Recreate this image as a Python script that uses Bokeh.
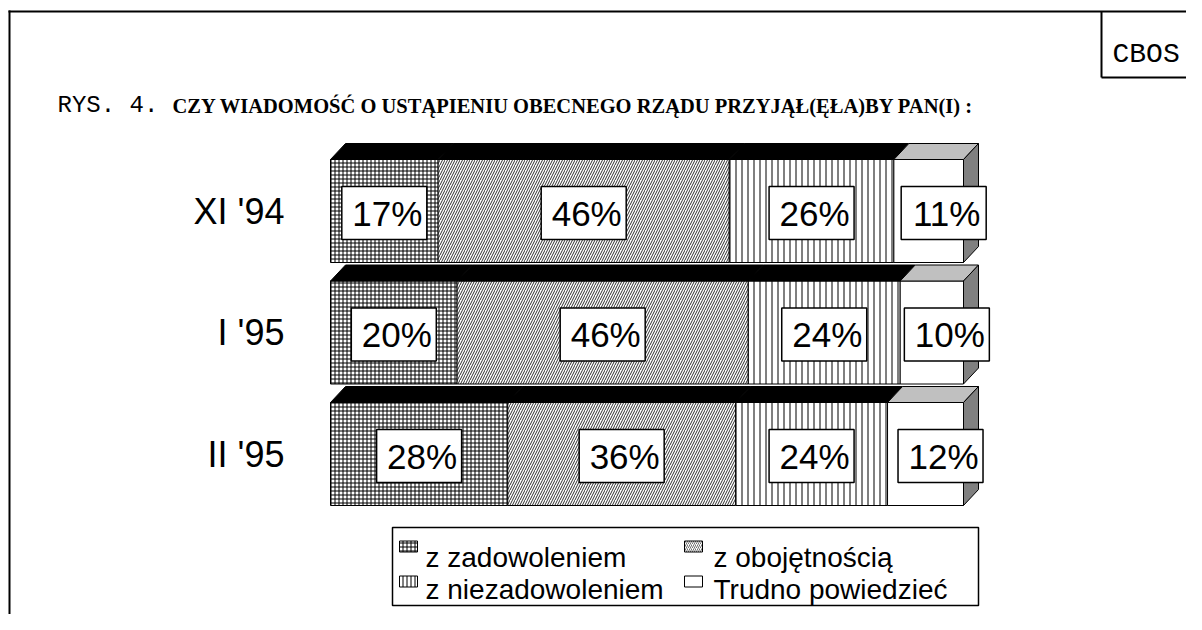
from bokeh.plotting import figure
from bokeh.models import Range1d
from bokeh.core.properties import value
from bokeh.embed import file_html
from bokeh.resources import INLINE

# ---------------- data ----------------
periods = ["XI '94", "I '95", "II '95"]
series = ["z zadowoleniem", "z obojętnością", "z niezadowoleniem", "Trudno powiedzieć"]
z_zadowoleniem = [17, 20, 28]
z_obojetnoscia = [46, 46, 36]
z_niezadowoleniem = [26, 24, 24]
trudno_powiedziec = [11, 10, 12]
title_prefix = "RYS. 4."
title_text = "CZY WIADOMOŚĆ O USTĄPIENIU OBECNEGO RZĄDU PRZYJĄŁ(ĘŁA)BY PAN(I) :"
source_text = "CBOS"

values = [z_zadowoleniem, z_obojetnoscia, z_niezadowoleniem, trudno_powiedziec]

# ---------------- layout ----------------
W, H = 1186, 614
OX, OY = 0, 0
X0, SX = 330.0, 6.33      # px of 0 %, px per 1 %
Y0, SY = 210.5, 121.5     # px of first bar centre, px per bar step


def px(x):
    return (x - X0) / SX


def py(y):
    return (y - Y0) / SY


p = figure(width=W, height=H, output_backend="svg", toolbar_location=None,
           x_range=Range1d(px(OX), px(OX + W)),
           y_range=Range1d(py(OY + H), py(OY)),
           x_axis_type=None, y_axis_type=None, min_border=0)
p.grid.visible = False
p.outline_line_color = None
p.background_fill_color = "white"
p.border_fill_color = "white"

SANS = value("Liberation Sans")
SERIF = value("Liberation Serif")
MONO = value("Liberation Mono")

# outer frame and source box
p.segment(x0=[px(9), px(8), px(1101), px(1101)],
          y0=[py(10), py(11), py(11), py(77)],
          x1=[px(9), px(1215), px(1101), px(1215)],
          y1=[py(640), py(11), py(77), py(77)],
          line_color="black", line_width=2)
p.text(x=[px(1112)], y=[py(54)], text=[source_text], text_font=MONO,
       text_font_size="28px", text_color="black", text_baseline="alphabetic")

# title
p.text(x=[px(57)], y=[py(105)], text=[title_prefix], text_font=MONO,
       text_font_size="24px", text_color="black", text_baseline="alphabetic")
p.text(x=[px(172)], y=[py(105)], text=[title_text], text_font=SERIF,
       text_font_style="bold", text_font_size="20.5px", text_color="black",
       text_baseline="alphabetic")

# ---------------- bars ----------------
BAR_H = 103 / SY
DX = 15 / SX
DY = 16 / SY
ks = list(range(len(periods)))

styles = [
    dict(hatch_pattern="+", hatch_scale=4, hatch_weight=1, hatch_color="black"),
    dict(hatch_pattern="/", hatch_scale=5, hatch_weight=1, hatch_color="#303030"),
    dict(hatch_pattern="|", hatch_scale=6, hatch_weight=1, hatch_color="black"),
    dict(),
]
legend_styles = [
    dict(hatch_pattern="+", hatch_scale=4, hatch_weight=1, hatch_color="black"),
    dict(hatch_pattern="/", hatch_scale=4, hatch_weight=1, hatch_color="#707070"),
    dict(hatch_pattern="|", hatch_scale=4, hatch_weight=1, hatch_color="black"),
    dict(),
]
top_colors = ["black", "black", "black", "#c0c0c0"]

cum = [0.0] * len(periods)
n = len(series)
for i, vals in enumerate(values):
    lefts = cum[:]
    rights = [l + v for l, v in zip(lefts, vals)]
    tops = [k - BAR_H / 2 for k in ks]
    bottoms = [k + BAR_H / 2 for k in ks]
    # front face
    p.quad(left=lefts, right=rights, top=tops, bottom=bottoms,
           fill_color="white", line_color="black", line_width=1, **styles[i])
    # top face
    p.patches(xs=[[l, r, r + DX, l + DX] for l, r in zip(lefts, rights)],
              ys=[[t, t, t - DY, t - DY] for t in tops],
              fill_color=top_colors[i], line_color="black", line_width=1)
    if i == n - 1:
        # right side face
        p.patches(xs=[[r, r + DX, r + DX, r] for r in rights],
                  ys=[[t, t - DY, b - DY, b] for t, b in zip(tops, bottoms)],
                  fill_color="#808080", line_color="black", line_width=1)
    cum = rights

# value labels
cum = [0.0] * len(periods)
for i, vals in enumerate(values):
    lefts = cum[:]
    rights = [l + v for l, v in zip(lefts, vals)]
    cx = [(l + r) / 2 + (DX if i == n - 1 else 0) for l, r in zip(lefts, rights)]
    cy = [k + 2 / SY for k in ks]
    p.rect(x=cx, y=cy, width=85, height=53, width_units="screen",
           height_units="screen", fill_color="white", line_color="black",
           line_width=1.5)
    p.text(x=[c + 3 / SX for c in cx], y=cy, text=[f"{v}%" for v in vals],
           text_font=SANS, text_font_size="35px", text_color="black",
           text_align="center", text_baseline="middle")
    cum = rights

# category labels
p.text(x=[px(284)] * len(periods), y=ks, text=periods, text_font=SANS,
       text_font_size="36px", text_color="black", text_align="right",
       text_baseline="middle")

# ---------------- legend ----------------
p.quad(left=[px(392)], right=[px(978)], top=[py(527)], bottom=[py(605)],
       fill_color="white", line_color="black", line_width=1.5)
icon_x = [399, 684, 399, 684]
icon_y = [546, 546, 581, 581]
text_x = [425, 713, 425, 713]
text_y = [557, 557, 589, 589]
for i, name in enumerate(series):
    p.rect(x=[px(icon_x[i] + 9)], y=[py(icon_y[i])], width=18, height=11,
           width_units="screen", height_units="screen", fill_color="white",
           line_color="black", line_width=1, **legend_styles[i])
    p.text(x=[px(text_x[i])], y=[py(text_y[i])], text=[name], text_font=SANS,
           text_font_size="28px", text_color="black", text_baseline="alphabetic")

open("out.html", "w").write(file_html(p, INLINE))
